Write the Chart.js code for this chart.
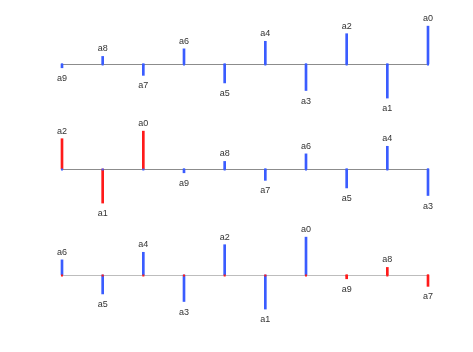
<!DOCTYPE html>
<html>
<head>
<meta charset="utf-8">
<script src="https://cdn.jsdelivr.net/npm/chart.js@4/dist/chart.umd.min.js"></script>
<style>
  body { margin: 0; background: #fff; }
  #wrap { position: relative; width: 473px; height: 352px; }
  .panel { position: absolute; left: 0; width: 473px; height: 106px; }
</style>
</head>
<body>
<div id="wrap">
  <div class="panel" style="top:11px"><canvas id="c1"></canvas></div>
  <div class="panel" style="top:116px"><canvas id="c2"></canvas></div>
  <div class="panel" style="top:222px"><canvas id="c3"></canvas></div>
</div>
<script>
// stem values
const labels1 = ['a9', 'a8', 'a7', 'a6', 'a5', 'a4', 'a3', 'a2', 'a1', 'a0'];
const values1 = [-1, 2, -3, 4, -5, 6, -7, 8, -9, 10];
const red1 = [];

const labels2 = ['a2', 'a1', 'a0', 'a9', 'a8', 'a7', 'a6', 'a5', 'a4', 'a3'];
const values2 = [8, -9, 10, -1, 2, -3, 4, -5, 6, -7];
const red2 = ['a2', 'a1', 'a0'];

const labels3 = ['a6', 'a5', 'a4', 'a3', 'a2', 'a1', 'a0', 'a9', 'a8', 'a7'];
const values3 = [4, -5, 6, -7, 8, -9, 10, -1, 2, -3];
const red3 = ['a9', 'a8', 'a7'];

const BLUE = '#3a5cff';
const RED = '#ff1a1a';

// baseline, base markers and stem labels
const stemPlugin = {
  id: 'stems',
  beforeDatasetsDraw(chart, args, opts) {
    const ctx = chart.ctx;
    const y0 = Math.round(chart.scales.y.getPixelForValue(0)) + 0.5;
    ctx.save();
    ctx.strokeStyle = opts.baseColor;
    ctx.lineWidth = 1.2;
    ctx.beginPath();
    ctx.moveTo(chart.chartArea.left, y0);
    ctx.lineTo(chart.chartArea.right, y0);
    ctx.stroke();
    ctx.restore();
  },
  afterDatasetsDraw(chart, args, opts) {
    const ctx = chart.ctx;
    const meta = chart.getDatasetMeta(0);
    const data = chart.data.datasets[0].data;
    const y0 = Math.round(chart.scales.y.getPixelForValue(0));
    ctx.save();
    ctx.font = '9px "Liberation Sans", Arial, sans-serif';
    ctx.textAlign = 'center';
    ctx.textBaseline = 'alphabetic';
    meta.data.forEach((bar, i) => {
      ctx.fillStyle = opts.markerColor;
      ctx.fillRect(bar.x - 1, y0 - 0.5, 2, 2);
      ctx.fillStyle = '#333';
      const ty = data[i] >= 0 ? bar.y - 5 : bar.y + 13;
      ctx.fillText(chart.data.labels[i], bar.x, ty);
    });
    ctx.restore();
  }
};

function stemChart(id, labels, values, reds, baseColor, markerColor) {
  new Chart(document.getElementById(id), {
    type: 'bar',
    data: {
      labels: labels,
      datasets: [{
        data: values,
        backgroundColor: labels.map((l) => reds.indexOf(l) !== -1 ? RED : BLUE),
        barThickness: 2,
        clip: false
      }]
    },
    options: {
      responsive: true,
      maintainAspectRatio: false,
      animation: false,
      layout: { padding: { left: 62, right: 45, top: 0, bottom: 0 } },
      plugins: {
        legend: { display: false },
        tooltip: { enabled: false },
        stems: { baseColor: baseColor, markerColor: markerColor }
      },
      scales: {
        x: { display: false, offset: false },
        y: { display: false, min: -14, max: 14 }
      }
    },
    plugins: [stemPlugin]
  });
}

stemChart('c1', labels1, values1, red1, '#8c8c8c', BLUE);
stemChart('c2', labels2, values2, red2, '#8c8c8c', BLUE);
stemChart('c3', labels3, values3, red3, '#bdbdbd', RED);
</script>
</body>
</html>
